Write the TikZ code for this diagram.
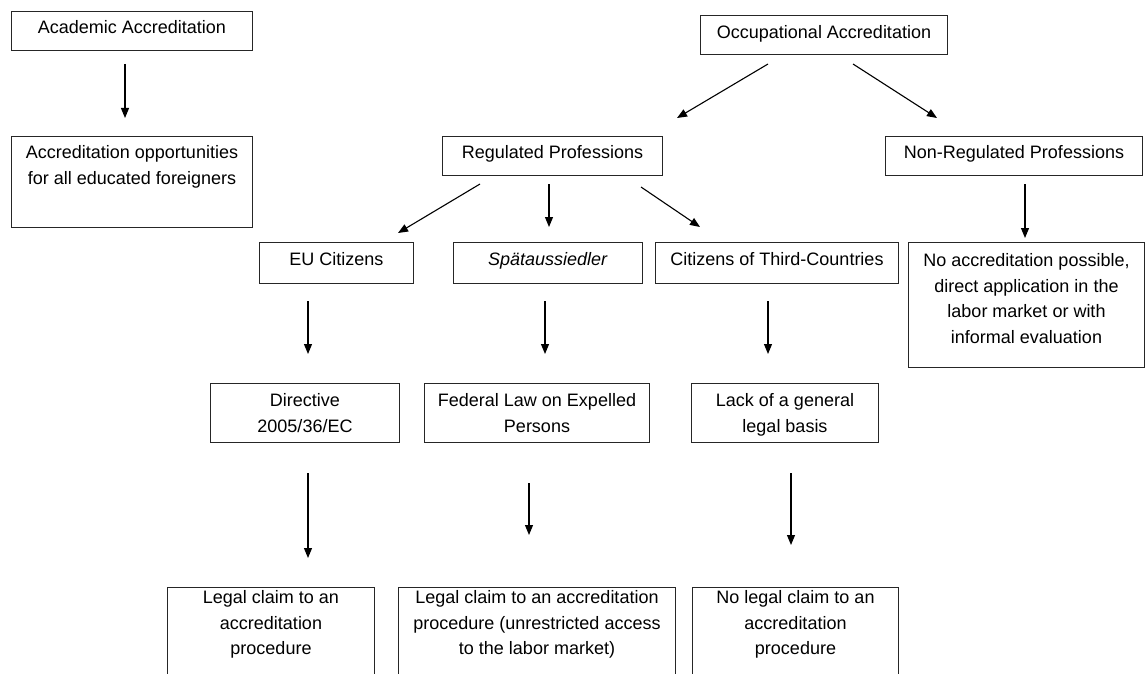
\documentclass[tikz,border=0pt]{standalone}
\usepackage{fontspec}
\setmainfont{Liberation Sans}
\usetikzlibrary{arrows.meta,calc}
\newcommand{\bxt}[4]{\parbox[c][#2][t]{#1}{\centering\baselineskip=25.6pt\vspace*{#3}\rule{0pt}{14pt}#4\par}}
\tikzset{
  box/.style={draw=black!85, line width=1pt, inner sep=0pt, anchor=north west, font=\fontsize{18}{25.6}\selectfont},
  arr/.style={draw=black, line width=1.1pt, -{Triangle[length=10pt,width=8pt]}}
}
\begin{document}
\begin{tikzpicture}[x=1pt,y=-1pt]
\clip (0,0) rectangle (1145,674);
\fill[white] (0,0) rectangle (1145,674);
% boxes
\node[box] (aa)  at (11,11)   {\bxt{241pt}{39pt}{8pt}{Academic Accreditation}};
\node[box] (ao)  at (11,136)  {\bxt{241pt}{91pt}{8pt}{Accreditation opportunities\\for all educated foreigners}};
\node[box] (oa)  at (700,15)  {\bxt{247pt}{39pt}{9pt}{Occupational Accreditation}};
\node[box] (rp)  at (442,136) {\bxt{220pt}{39pt}{8pt}{Regulated Professions}};
\node[box] (nrp) at (885,136) {\bxt{257pt}{39pt}{8pt}{Non-Regulated Professions}};
\node[box] (eu)  at (259,242) {\bxt{154pt}{41pt}{9pt}{EU Citizens}};
\node[box] (sp)  at (453,242) {\bxt{189pt}{41pt}{9pt}{\textit{Spätaussiedler}}};
\node[box] (tc)  at (655,242) {\bxt{243pt}{41pt}{9pt}{Citizens of Third-Countries}};
\node[box] (na)  at (908,242) {\bxt{236pt}{125pt}{10pt}{No accreditation possible,\\direct application in the\\labor market or with\\informal evaluation}};
\node[box] (di)  at (210,383) {\bxt{189pt}{59pt}{9pt}{Directive\\2005/36/EC}};
\node[box] (fl)  at (424,383) {\bxt{225pt}{59pt}{9pt}{Federal Law on Expelled\\Persons}};
\node[box] (lk)  at (691,383) {\bxt{187pt}{59pt}{9pt}{Lack of a general\\legal basis}};
\node[box] (lc1) at (167,587) {\bxt{207pt}{113pt}{2pt}{Legal claim to an\\accreditation\\procedure}};
\node[box] (lc2) at (398,587) {\bxt{277pt}{113pt}{2pt}{Legal claim to an accreditation\\procedure (unrestricted access\\to the labor market)}};
\node[box] (nl)  at (692,587) {\bxt{206pt}{113pt}{2pt}{No legal claim to an\\accreditation\\procedure}};
% connectors
\draw[arr] ($(aa.south west)+(114,13)$) -- ($(ao.north west)+(114,-18)$);
\draw[arr] ($(oa.south west)+(68,9)$) -- ($(rp.north west)+(235,-18)$);
\draw[arr] ($(oa.south west)+(153,9)$) -- ($(nrp.north west)+(52,-18)$);
\draw[arr] ($(rp.south west)+(38,8)$) -- ($(eu.north west)+(139,-9)$);
\draw[arr] ($(rp.south west)+(107,8)$) -- ($(sp.north west)+(96,-15)$);
\draw[arr] ($(rp.south west)+(199,11)$) -- ($(tc.north west)+(45,-15)$);
\draw[arr] ($(nrp.south west)+(140,8)$) -- ($(na.north west)+(117,-4)$);
\draw[arr] ($(eu.south west)+(49,17)$) -- ($(di.north west)+(98,-29)$);
\draw[arr] ($(sp.south west)+(92,17)$) -- ($(fl.north west)+(121,-29)$);
\draw[arr] ($(tc.south west)+(113,17)$) -- ($(lk.north west)+(77,-29)$);
\draw[arr] ($(di.south west)+(98,30)$) -- ($(lc1.north west)+(141,-29)$);
\draw[arr] ($(fl.south west)+(105,40)$) -- ($(lc2.north west)+(131,-52)$);
\draw[arr] ($(lk.south west)+(100,30)$) -- ($(nl.north west)+(99,-42)$);
\end{tikzpicture}
\end{document}
